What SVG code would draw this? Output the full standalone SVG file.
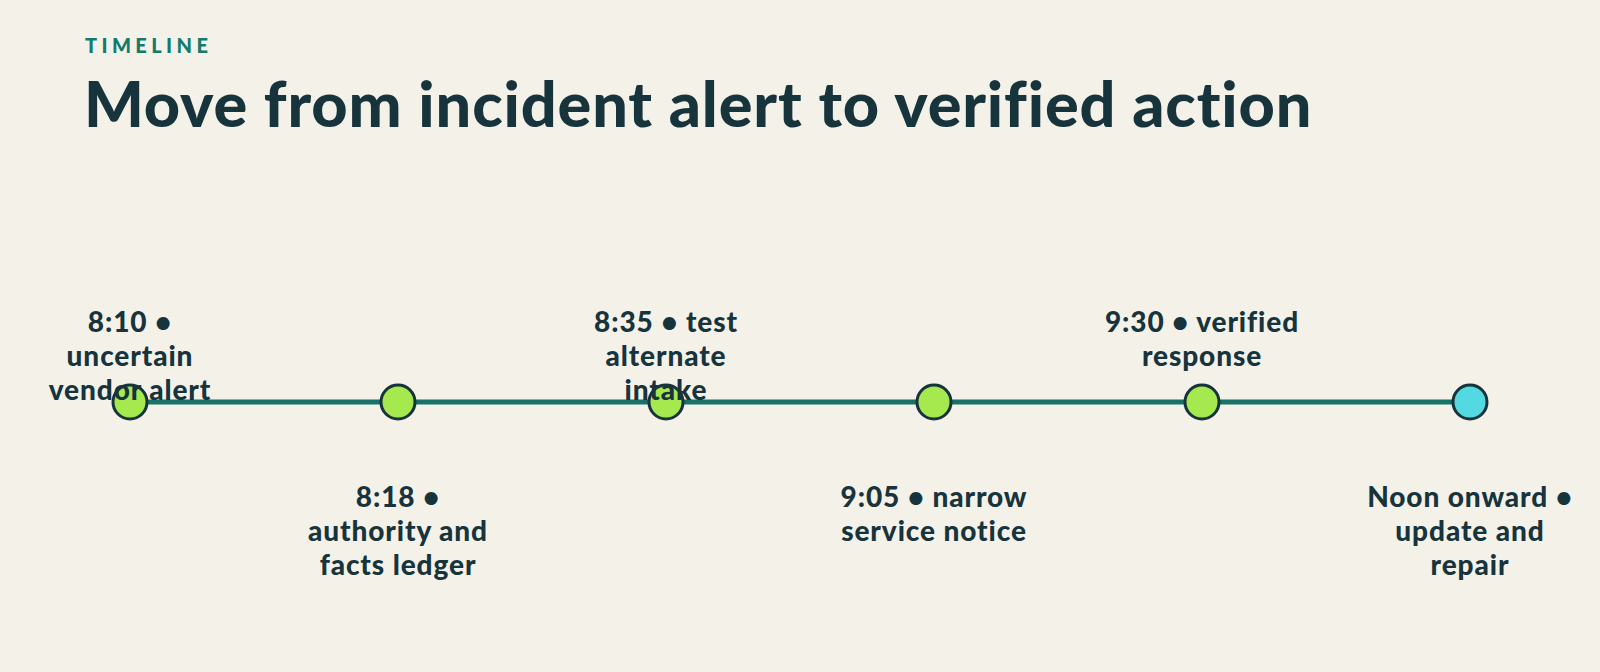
<svg xmlns="http://www.w3.org/2000/svg" width="1600" height="672" viewBox="0 0 1600 672">
<style>
.eyebrow{font-family:"Lato","Liberation Sans",sans-serif;font-weight:900;font-size:20px;letter-spacing:4.4px;fill:#137a6e}
.title{font-family:"Lato","Liberation Sans",sans-serif;font-weight:900;font-size:63px;letter-spacing:0.85px;fill:#17343d}
.lbl{font-family:"Lato","Liberation Sans",sans-serif;font-weight:900;font-size:28px;letter-spacing:0.9px;fill:#17343d;text-anchor:middle}
.dot{stroke:#17343d;stroke-width:3}
.green{fill:#a6e94f}
.cyan{fill:#52d9e2}
</style>
<rect width="1600" height="672" fill="#f4f1e9"/>
<text class="eyebrow" x="85" y="53">TIMELINE</text>
<text class="title" x="84" y="127">Move from incident alert to verified action</text>
<g id="connectors">
<line x1="130" y1="402" x2="1470" y2="402" stroke="#17726a" stroke-width="5"/>
</g>
<g id="n1">
<circle class="dot green" cx="130" cy="402" r="17"/>
<text class="lbl"><tspan x="130" y="332">8:10 •</tspan><tspan x="130" y="366">uncertain</tspan><tspan x="130" y="400">vendor alert</tspan></text>
</g>
<g id="n2">
<circle class="dot green" cx="398" cy="402" r="17"/>
<text class="lbl"><tspan x="398" y="507">8:18 •</tspan><tspan x="398" y="541">authority and</tspan><tspan x="398" y="575">facts ledger</tspan></text>
</g>
<g id="n3">
<circle class="dot green" cx="666" cy="402" r="17"/>
<text class="lbl"><tspan x="666" y="332">8:35 • test</tspan><tspan x="666" y="366">alternate</tspan><tspan x="666" y="400">intake</tspan></text>
</g>
<g id="n4">
<circle class="dot green" cx="934" cy="402" r="17"/>
<text class="lbl"><tspan x="934" y="507">9:05 • narrow</tspan><tspan x="934" y="541">service notice</tspan></text>
</g>
<g id="n5">
<circle class="dot green" cx="1202" cy="402" r="17"/>
<text class="lbl"><tspan x="1202" y="332">9:30 • verified</tspan><tspan x="1202" y="366">response</tspan></text>
</g>
<g id="n6">
<circle class="dot cyan" cx="1470" cy="402" r="17"/>
<text class="lbl"><tspan x="1470" y="507">Noon onward •</tspan><tspan x="1470" y="541">update and</tspan><tspan x="1470" y="575">repair</tspan></text>
</g>
</svg>
